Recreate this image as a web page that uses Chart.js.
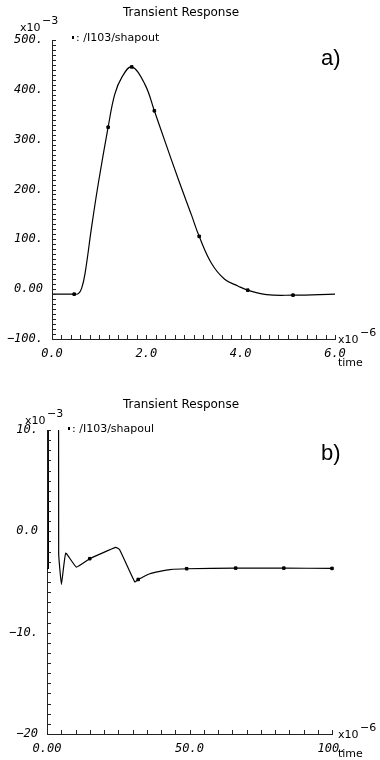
<!DOCTYPE html>
<html>
<head>
<meta charset="utf-8">
<script src="https://cdn.jsdelivr.net/npm/chart.js@4/dist/chart.umd.min.js"></script>
<style>
  body { margin: 0; background: #fff; }
  .box { position: absolute; left: 0; width: 380px; height: 380px; }
  #box-a { top: 0; }
  #box-b { top: 380px; }
</style>
</head>
<body>
<div class="box" id="box-a"><canvas id="chart-a" width="380" height="380"></canvas></div>
<div class="box" id="box-b"><canvas id="chart-b" width="380" height="380"></canvas></div>
<script>
// Data (time in 1e-6 s, voltage in 1e-3)
// ================================================================================
const title_text = "Transient Response";

// a) shaper output
const time_a = [0, 0.47, 0.56, 0.63, 0.70, 0.84, 0.98, 1.19, 1.33, 1.48, 1.69, 1.97, 2.17,
	2.39, 2.68, 2.96, 3.12, 3.38, 3.66, 3.95, 4.15, 4.55, 5.11, 6.0];
const values_a = [-10, -10, -9, 2, 31, 125, 211, 325, 391, 425, 446, 411, 358,
	298, 220, 148, 106, 52, 20, 6, -2, -11, -12, -10];
const marker_time_a = [0.47, 1.19, 1.69, 2.17, 3.12, 4.15, 5.11];
const marker_values_a = [-10, 325, 446, 358, 106, -2, -12];
const y_ticks_a = [-100, 0, 100, 200, 300, 400, 500];
const y_labels_a = ["\u2212100.", "0.00", "100.", "200.", "300.", "400.", "500."];
const x_ticks_a = [0, 2, 4, 6];
const x_labels_a = ["0.0", "2.0", "4.0", "6.0"];
const legend_a = ": /I103/shapout";

// b) shaper output, long run
const time_b = [0, 0.5, 0.6, 3.8, 4.1, 5.06, 6.57, 10.3, 15.0, 24.1, 25.5, 30.8, 32.0,
	36.1, 39.6, 43.1, 49.0, 66.2, 83.1, 100];
const values_b = [-3.66, -3.66, 40, 40, -2.2, -5.25, -2.15, -3.53, -2.70, -1.58, -1.81, -4.99, -4.75,
	-4.18, -3.96, -3.78, -3.69, -3.63, -3.63, -3.66];
const marker_time_b = [15.0, 32.0, 49.0, 66.2, 83.1, 100];
const marker_values_b = [-2.70, -4.75, -3.69, -3.63, -3.63, -3.66];
const y_ticks_b = [-20, -10, 0, 10];
const y_labels_b = ["\u221220", "\u221210.", "0.0", "10."];
const x_ticks_b = [0, 50, 100];
const x_labels_b = ["0.00", "50.0", "100."];
const legend_b = ": /I103/shapoul";

// Helpers
// ================================================================================
const tick_font = { family: "DejaVu Sans Mono", size: 12, style: "italic" };
const text_font = "12px 'DejaVu Sans'";

let to_points = (xs, ys) => xs.map((x, i) => ({ x: x, y: ys[i] }));

// inward minor ticks + the loose texts around the plot
let decor_plugin = {
	id: "decor",
	afterDraw(chart) {
		let o = chart.options.plugins.decor;
		let ctx = chart.ctx;
		let area = chart.chartArea;
		let xs = chart.scales.x, ys = chart.scales.y;
		ctx.save();
		ctx.strokeStyle = "#222";
		ctx.lineWidth = 1;
		ctx.beginPath();
		for (let v = ys.min; v <= ys.max + 1e-9; v += o.y_minor) {
			let p = Math.round(ys.getPixelForValue(v)) + 0.5;
			ctx.moveTo(area.left, p);
			ctx.lineTo(area.left + 4, p);
		}
		for (let v = xs.min; v <= xs.max + 1e-9; v += o.x_minor) {
			let p = Math.round(xs.getPixelForValue(v)) + 0.5;
			ctx.moveTo(p, area.bottom);
			ctx.lineTo(p, area.bottom - 4);
		}
		ctx.stroke();

		ctx.fillStyle = "#000";
		ctx.textBaseline = "alphabetic";
		ctx.font = text_font;
		ctx.textAlign = "center";
		ctx.fillText(title_text, 181, o.title_y);
		ctx.textAlign = "left";
		ctx.font = "11px 'DejaVu Sans'";
		ctx.fillRect(o.legend_x - 4, o.legend_y - 5, 2, 3);
		ctx.fillText(o.legend, o.legend_x, o.legend_y);
		ctx.fillText("x10", o.exp_y_x, o.exp_y_y);
		ctx.fillText("\u22123", o.exp_y_x + 22, o.exp_y_y - 7);
		ctx.fillText("x10", 338, area.bottom + 4);
		ctx.fillText("\u22126", 360, area.bottom - 3);
		ctx.fillText("time", 338, area.bottom + o.time_dy);
		ctx.font = "22px 'Liberation Sans'";
		ctx.fillText(o.tag, 321, o.tag_y);
		ctx.restore();
	}
};

let make_chart = (id, cfg) => new Chart(document.getElementById(id), {
	type: "scatter",
	data: {
		datasets: [{
			data: to_points(cfg.time, cfg.values),
			showLine: true,
			borderColor: "#000",
			borderWidth: 1.2,
			pointRadius: 0,
			tension: cfg.tension
		}, {
			data: to_points(cfg.marker_time, cfg.marker_values),
			showLine: false,
			pointStyle: "rect",
			pointRadius: 1.8,
			backgroundColor: "#000",
			borderColor: "#000",
			borderWidth: 1,
			clip: 6
		}]
	},
	options: {
		responsive: false,
		animation: false,
		layout: { padding: cfg.padding },
		plugins: {
			legend: { display: false },
			tooltip: { enabled: false },
			decor: cfg.decor
		},
		scales: {
			x: {
				type: "linear",
				min: cfg.x_ticks[0],
				max: cfg.x_ticks[cfg.x_ticks.length - 1],
				afterBuildTicks: (s) => { s.ticks = cfg.x_ticks.map(v => ({ value: v })); },
				afterFit: (s) => { s.height = cfg.x_height; },
				grid: { display: false },
				border: { display: true, color: "#222", width: 1 },
				ticks: {
					autoSkip: false,
					maxRotation: 0,
					padding: 0,
					color: "#000",
					font: tick_font,
					callback: (v) => cfg.x_labels[cfg.x_ticks.indexOf(v)]
				}
			},
			y: {
				type: "linear",
				min: cfg.y_ticks[0],
				max: cfg.y_ticks[cfg.y_ticks.length - 1],
				afterBuildTicks: (s) => { s.ticks = cfg.y_ticks.map(v => ({ value: v })); },
				afterFit: (s) => { s.width = cfg.y_width; },
				grid: { display: false },
				border: { display: true, color: "#222", width: 1 },
				ticks: {
					autoSkip: false,
					padding: 1,
					color: "#000",
					font: tick_font,
					callback: (v) => cfg.y_labels[cfg.y_ticks.indexOf(v)]
				}
			}
		}
	},
	plugins: [decor_plugin]
});

// Charts
// ================================================================================
let chart_a = make_chart("chart-a", {
	time: time_a, values: values_a, tension: 0.4,
	marker_time: marker_time_a, marker_values: marker_values_a,
	x_ticks: x_ticks_a, x_labels: x_labels_a,
	y_ticks: y_ticks_a, y_labels: y_labels_a,
	padding: { left: 0, right: 45, top: 40, bottom: 0 },
	x_height: 41, y_width: 52,
	decor: {
		y_minor: 10, x_minor: 0.2,
		title_y: 16, legend: legend_a, legend_x: 76, legend_y: 41,
		exp_y_x: 20, exp_y_y: 31, tag: "a)", tag_y: 65, time_dy: 27
	}
});

let chart_b = make_chart("chart-b", {
	time: time_b, values: values_b, tension: 0.1,
	marker_time: marker_time_b, marker_values: marker_values_b,
	x_ticks: x_ticks_b, x_labels: x_labels_b,
	y_ticks: y_ticks_b, y_labels: y_labels_b,
	padding: { left: 0, right: 48, top: 50, bottom: 0 },
	x_height: 26, y_width: 47,
	decor: {
		y_minor: 1, x_minor: 5,
		title_y: 28, legend: legend_b, legend_x: 72, legend_y: 52,
		exp_y_x: 25, exp_y_y: 44, tag: "b)", tag_y: 80, time_dy: 23
	}
});
</script>
</body>
</html>
